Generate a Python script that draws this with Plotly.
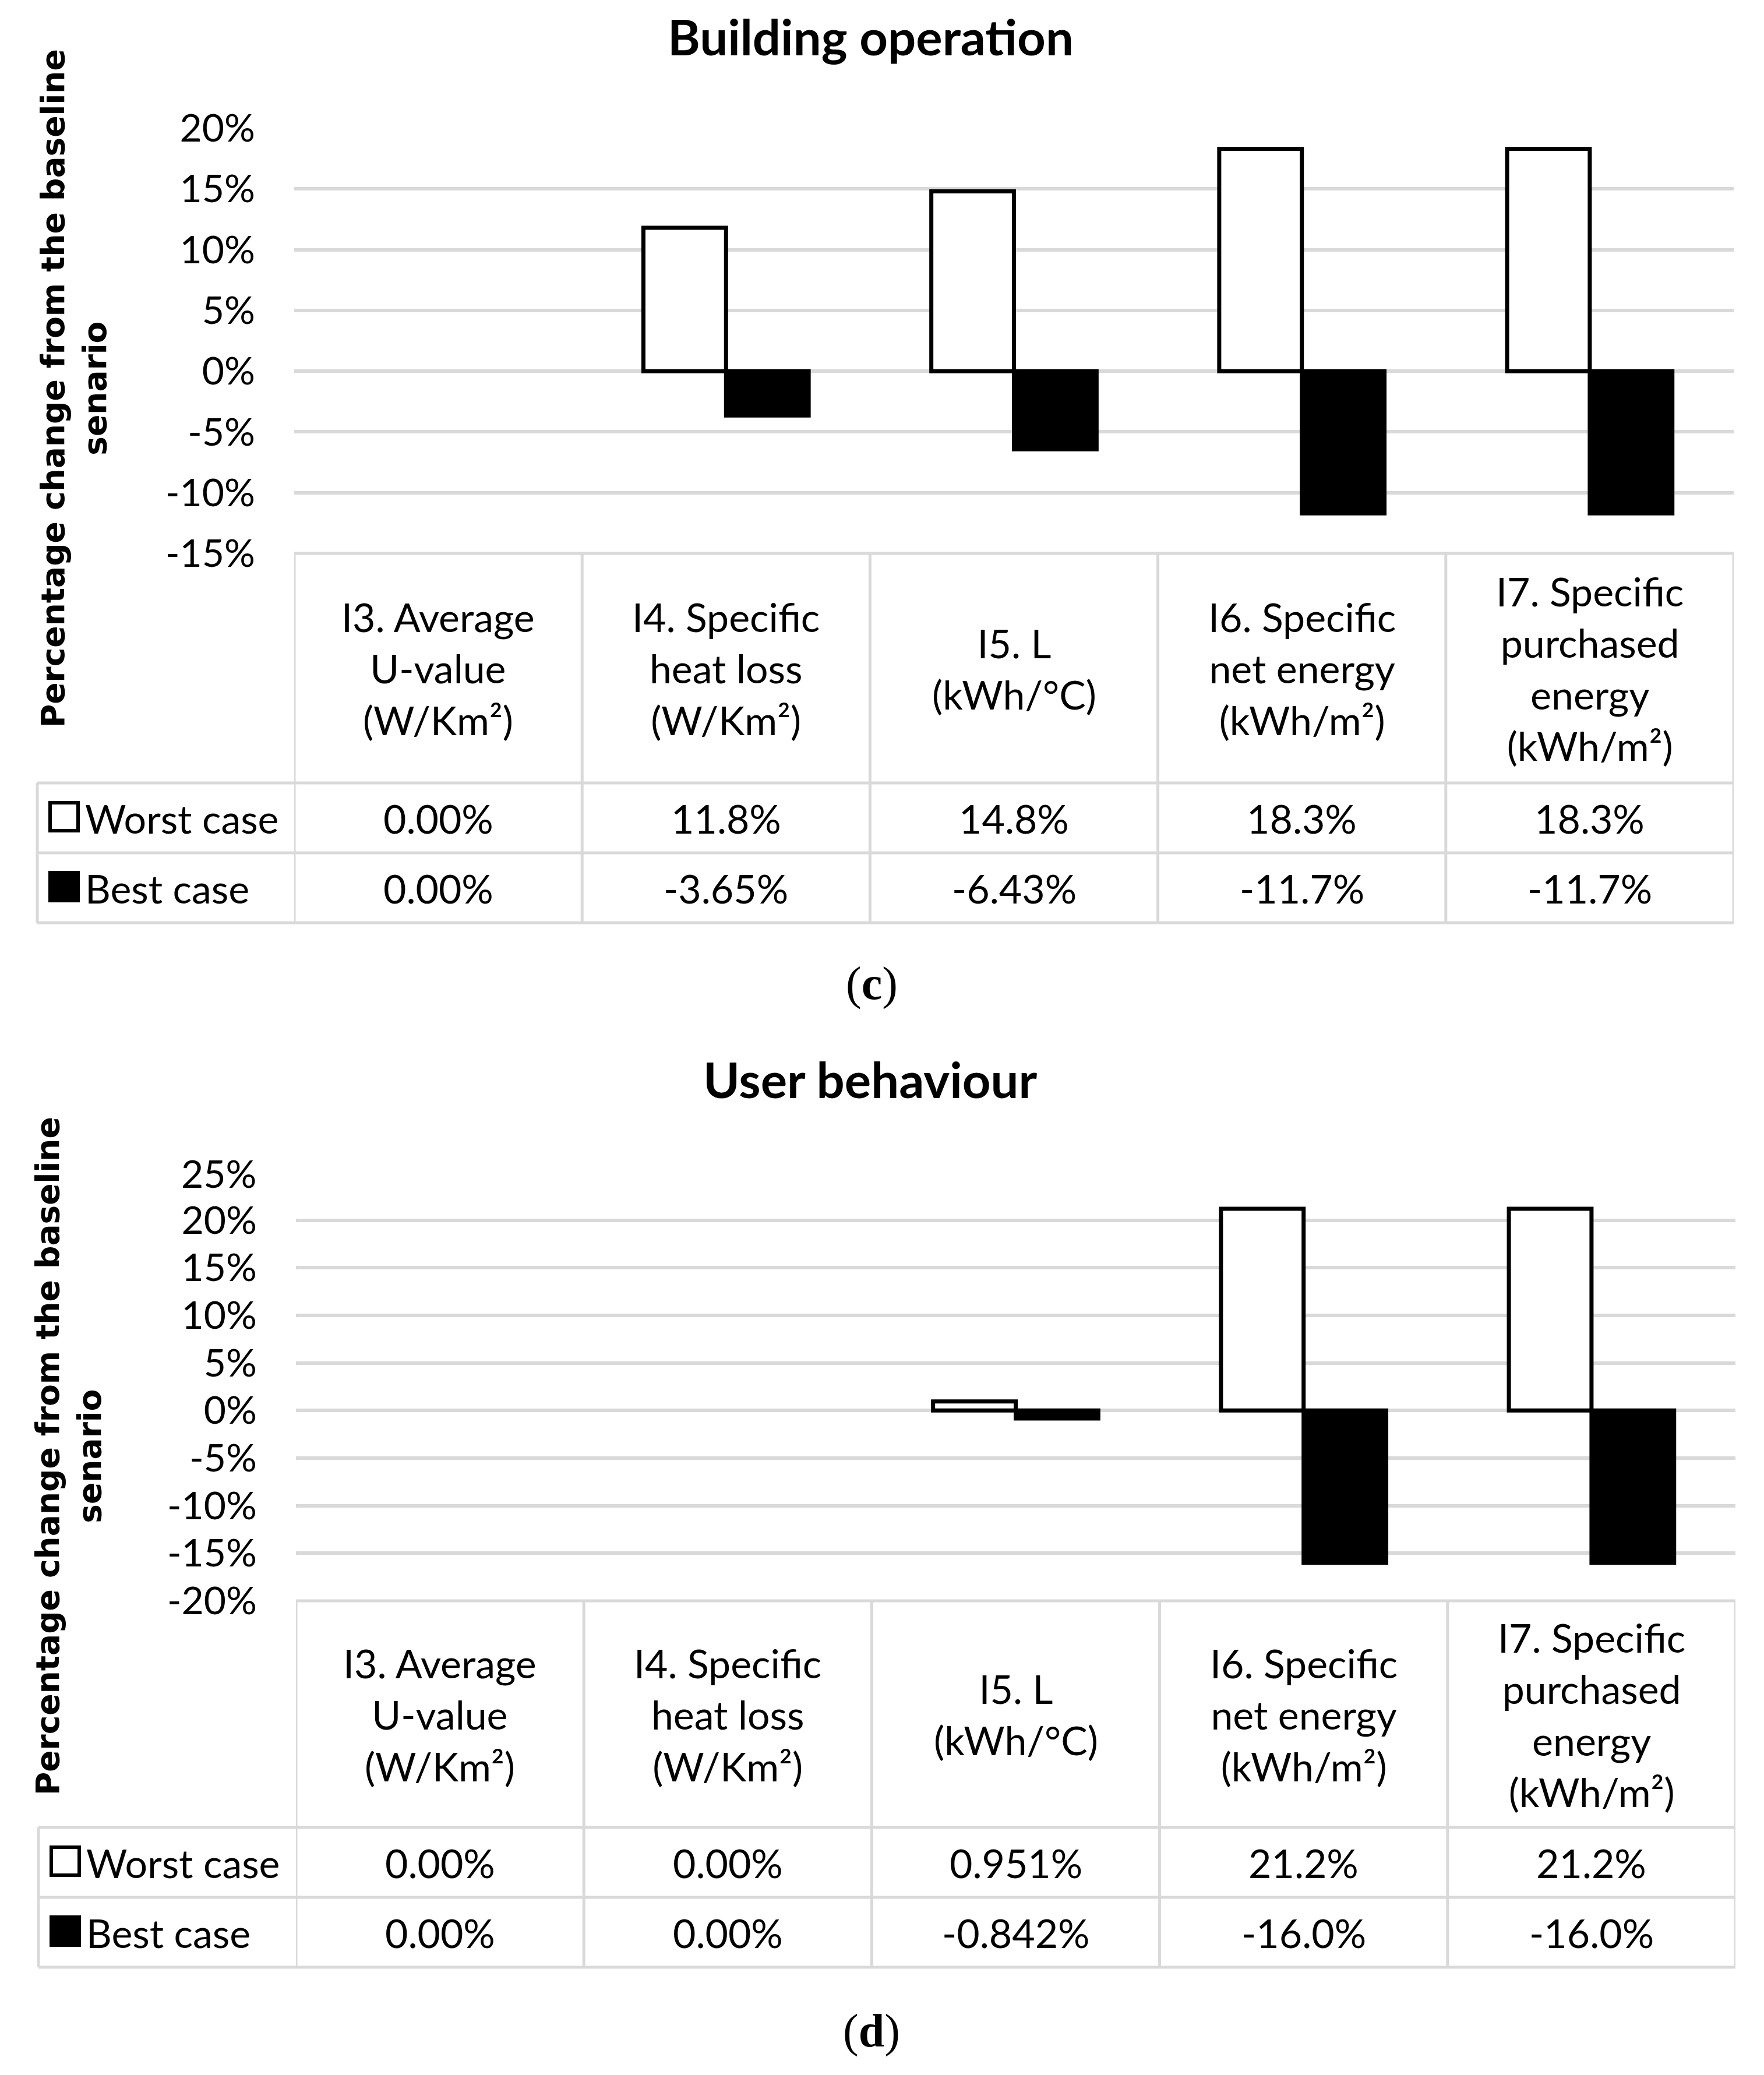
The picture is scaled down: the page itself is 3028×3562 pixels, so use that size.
import plotly.graph_objects as go

# Kategorien und Tabellenkopf
kategorien = ["I3", "I4", "I5", "I6", "I7"]
kopfzeilen = [
    "I3. Average<br>U-value<br>(W/Km²)",
    "I4. Specific<br>heat loss<br>(W/Km²)",
    "I5. L<br>(kWh/°C)",
    "I6. Specific<br>net energy<br>(kWh/m²)",
    "I7. Specific<br>purchased<br>energy<br>(kWh/m²)",
]

# (c) Building operation
worst_c = [0.0, 11.8, 14.8, 18.3, 18.3]
best_c = [0.0, -3.65, -6.43, -11.7, -11.7]
ticks_c = [-15, -10, -5, 0, 5, 10, 15, 20]

# (d) User behaviour
worst_d = [0.0, 0.0, 0.951, 21.2, 21.2]
best_d = [0.0, 0.0, -0.842, -16.0, -16.0]
ticks_d = [-20, -15, -10, -5, 0, 5, 10, 15, 20, 25]

W, H = 3028, 3562
RAND = 8  # Seitenrand des Browsers
GRAU = "#d9d9d9"
SCHRIFT = "Lato, 'Open Sans', sans-serif"


def px_x(p):
    return (p - RAND) / W


def px_y(p):
    return 1 - (p - RAND) / H


panels = [
    dict(titel="Building operation", label="c", worst=worst_c, best=best_c, ticks=ticks_c,
         left=505, right=2976, top=220, bottom=950, kopf=1344, zeile1=1464, unten=1584,
         legende=64, titel_y=62, ytitel_x=127, ytitel_y=667, label_y=1688, xa="x", ya="y"),
    dict(titel="User behaviour", label="d", worst=worst_d, best=best_d, ticks=ticks_d,
         left=508, right=2979, top=2013, bottom=2748, kopf=3137, zeile1=3257, unten=3377,
         legende=66, titel_y=1852, ytitel_x=118, ytitel_y=2500, label_y=3486, xa="x2", ya="y2"),
]

fig = go.Figure()
shapes = []
annotations = []

for i, p in enumerate(panels):
    # Balken mit Wert 0 bekommen keinen Rand (im Original nicht sichtbar)
    rand_w = [0 if v == 0 else 7 for v in p["worst"]]
    rand_b = [0 if v == 0 else 7 for v in p["best"]]
    fig.add_trace(go.Bar(x=kategorien, y=p["worst"], name="Worst case",
                         marker=dict(color="white", line=dict(color="black", width=rand_w)),
                         xaxis=p["xa"], yaxis=p["ya"], showlegend=False))
    fig.add_trace(go.Bar(x=kategorien, y=p["best"], name="Best case",
                         marker=dict(color="black", line=dict(color="black", width=rand_b)),
                         xaxis=p["xa"], yaxis=p["ya"], showlegend=False))

    sfx = "" if i == 0 else "2"
    tv = p["ticks"]
    # oberste 25%-Linie hat in (d) keine Gitterlinie
    grid_ticks = tv if i == 0 else tv[:-1]
    fig.update_layout(**{
        "xaxis" + sfx: dict(domain=[px_x(p["left"]), px_x(p["right"])], anchor="y" + sfx,
                            type="category", range=[-0.5, 4.5], showticklabels=False,
                            showgrid=False, zeroline=False, showline=False, automargin=False),
        "yaxis" + sfx: dict(domain=[px_y(p["bottom"]), px_y(p["top"])], anchor="x" + sfx,
                            range=[tv[0], tv[-1]], tickvals=grid_ticks,
                            ticktext=[f"{v}%" for v in grid_ticks], automargin=False,
                            showgrid=True, gridcolor=GRAU, gridwidth=6, zeroline=False,
                            showline=False, ticks="", ticklabelstandoff=66,
                            tickfont=dict(size=66, color="black", family=SCHRIFT)),
    })
    if i == 1:
        annotations.append(dict(text=f"{tv[-1]}%", x=px_x(p["left"]), xref="paper", xanchor="right",
                                xshift=-66, y=tv[-1], yref="y2", yanchor="middle", showarrow=False,
                                font=dict(size=66, color="black", family=SCHRIFT)))

    # Tabellengitter
    lc = dict(color=GRAU, width=5)
    for k in range(len(kategorien) + 1):
        shapes.append(dict(type="line", xref=p["xa"], yref="paper", x0=k - 0.5, x1=k - 0.5,
                           y0=px_y(p["bottom"]), y1=px_y(p["unten"]), line=lc, layer="below"))
    shapes.append(dict(type="line", xref="paper", yref="paper", x0=px_x(p["legende"]), x1=px_x(p["legende"]),
                       y0=px_y(p["kopf"]), y1=px_y(p["unten"]), line=lc, layer="below"))
    shapes.append(dict(type="line", xref=p["xa"], yref="paper", x0=-0.5, x1=4.5,
                       y0=px_y(p["bottom"]), y1=px_y(p["bottom"]), line=lc, layer="below"))
    for yy in (p["kopf"], p["zeile1"], p["unten"]):
        shapes.append(dict(type="line", xref="paper", yref="paper", x0=px_x(p["legende"]), x1=px_x(p["right"]),
                           y0=px_y(yy), y1=px_y(yy), line=lc, layer="below"))

    # Legende in der Tabelle
    mitte1 = (p["kopf"] + p["zeile1"]) / 2
    mitte2 = (p["zeile1"] + p["unten"]) / 2
    sq = 24
    for mitte, farbe in ((mitte1, "white"), (mitte2, "black")):
        shapes.append(dict(type="rect", xref="paper", yref="paper",
                           x0=px_x(p["legende"] + 22), x1=px_x(p["legende"] + 22 + 2 * sq),
                           y0=px_y(mitte - 2 - sq), y1=px_y(mitte - 2 + sq),
                           fillcolor=farbe, line=dict(color="black", width=6)))
    for mitte, name in ((mitte1, "Worst case"), (mitte2, "Best case")):
        annotations.append(dict(text=name, x=px_x(p["legende"] + 80), xref="paper", xanchor="left",
                                y=px_y(mitte), yref="paper", yanchor="middle", showarrow=False,
                                font=dict(size=68, color="black", family=SCHRIFT)))

    # Kopfzeile und Werte
    for k, kat in enumerate(kategorien):
        annotations.append(dict(text=kopfzeilen[k], x=kat, xref=p["xa"], y=px_y((p["bottom"] + p["kopf"]) / 2),
                                yref="paper", yanchor="middle", showarrow=False, align="center",
                                font=dict(size=68, color="black", family=SCHRIFT)))
        for mitte, werte in ((mitte1, p["worst"]), (mitte2, p["best"])):
            annotations.append(dict(text=format(werte[k], "#.3g") + "%", x=kat, xref=p["xa"],
                                    y=px_y(mitte), yref="paper", yanchor="middle", showarrow=False,
                                    font=dict(size=68, color="black", family=SCHRIFT)))

    # Titel, Achsentitel, Teilbild-Label
    annotations.append(dict(text=f"<b>{p['titel']}</b>", x=px_x(1494), xref="paper", xanchor="center",
                            y=px_y(p["titel_y"]), yref="paper", yanchor="middle", showarrow=False,
                            font=dict(size=85, color="black", family=SCHRIFT)))
    annotations.append(dict(text="<b>Percentage change from the baseline<br>senario</b>", textangle=-90,
                            x=px_x(p["ytitel_x"]), xref="paper", xanchor="center",
                            y=px_y(p["ytitel_y"]), yref="paper", yanchor="middle", showarrow=False,
                            font=dict(size=55, color="black", family="'DejaVu Sans', Verdana, sans-serif")))
    annotations.append(dict(text=f"(<b>{p['label']}</b>)", x=px_x(1496), xref="paper", xanchor="center",
                            y=px_y(p["label_y"]), yref="paper", yanchor="middle", showarrow=False,
                            font=dict(size=80, color="black", family="'Liberation Serif', serif")))

fig.update_layout(
    width=W, height=H,
    margin=dict(l=0, r=0, t=0, b=0, pad=0, autoexpand=False),
    paper_bgcolor="white", plot_bgcolor="white",
    barmode="group", bargap=0.426, bargroupgap=0,
    shapes=shapes, annotations=annotations,
    font=dict(family=SCHRIFT, color="black"),
)

fig.write_html("out.html")
